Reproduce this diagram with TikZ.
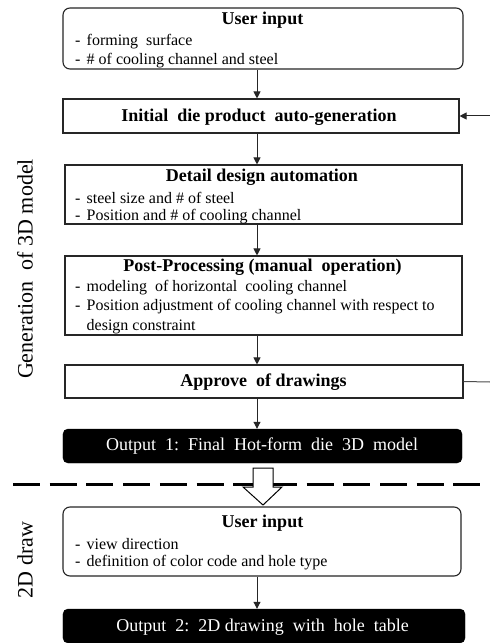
\documentclass[tikz,border=0pt]{standalone}
\usepackage{fontspec}
\setmainfont{Liberation Serif}
\usetikzlibrary{arrows.meta}
\begin{document}
\begin{tikzpicture}[x=1bp,y=-1bp,
  box/.style={draw=black!85, line width=1.1bp, inner sep=0pt, fill=white},
  rbox/.style={box, rounded corners=7bp},
  obox/.style={draw=black, fill=black, rounded corners=5bp, inner sep=0pt},
  ttl/.style={font=\fontsize{18bp}{21bp}\selectfont\bfseries, inner sep=0pt},
  body/.style={font=\fontsize{16bp}{19bp}\selectfont, inner sep=0pt, anchor=west},
  otxt/.style={font=\fontsize{18bp}{21bp}\selectfont, text=white, inner sep=0pt},
  side/.style={font=\fontsize{22bp}{26bp}\selectfont, rotate=90, inner sep=0pt},
  arr/.style={line width=1bp, draw=black!85, -{Triangle[length=7bp,width=7bp]}},
  fline/.style={line width=1bp, draw=black!70},
  ]
\useasboundingbox (0,0) rectangle (490,643);

% boxes
\node[rbox, minimum width=400bp, minimum height=61bp] (u1) at (263,38.5) {};
\node[box, minimum width=396bp, minimum height=34bp] (init) at (261,116) {};
\node[box, minimum width=397bp, minimum height=59bp] (det) at (263.5,194.5) {};
\node[box, minimum width=397bp, minimum height=79bp] (post) at (263.5,295.5) {};
\node[box, minimum width=398bp, minimum height=33bp] (appr) at (264,381.5) {};
\node[obox, minimum width=399bp, minimum height=34bp] (out1) at (262.5,446) {};
\node[rbox, minimum width=398bp, minimum height=69bp] (u2) at (262,541.5) {};
\node[obox, minimum width=402bp, minimum height=34bp] (out2) at (264,626) {};

% texts
\newcommand{\dsh}{\makebox[11.5bp][l]{-}}
\node[ttl] (u1t) at (262.5,20) {User input};
\node[body] (u1a) at (75,42) {\dsh forming\ \ surface};
\node[body] (u1b) at (75,61) {\dsh \# of cooling channel and steel};

\node[ttl] (initt) at (259,117) {Initial\ \ die product\ \ auto-generation};

\node[ttl] (dett) at (262,177) {Detail design automation};
\node[body] (deta) at (75,198) {\dsh steel size and \# of steel};
\node[body] (detb) at (75,217) {\dsh Position and \# of cooling channel};

\node[ttl] (postt) at (262.5,267) {Post-Processing (manual\ \ operation)};
\node[body] (posta) at (75,288) {\dsh modeling\ \ of horizontal\ \ cooling channel};
\node[body] (postb) at (75,307) {\dsh Position adjustment of cooling channel with respect to};
\node[body] (postc) at (75,327) {\hspace*{11.5bp}design constraint};

\node[ttl] (apprt) at (263.5,382) {Approve\ \ of drawings};

\node[otxt] (out1t) at (262,446) {Output\ \ 1:\ \ Final\ \ Hot-form\ \ die\ \ 3D\ \ model};

\node[ttl] (u2t) at (262.5,523) {User input};
\node[body] (u2a) at (75,544) {\dsh view direction};
\node[body] (u2b) at (75,563) {\dsh definition of color code and hole type};

\node[otxt] (out2t) at (262.5,627) {Output\ \ 2:\ \ 2D drawing\ \ with\ \ hole\ \ table};

\node[side] (lab3d) at (25,269) {Generation\ \ of 3D model};
\node[side] (lab2d) at (25,560) {2D draw};

% connectors
\coordinate (ax) at (257,0);
\draw[arr] (u1.south -| ax) -- (init.north -| ax);
\draw[arr] (init.south -| ax) -- (det.north -| ax);
\draw[arr] (det.south -| ax) -- (post.north -| ax);
\draw[arr] (post.south -| ax) -- (appr.north -| ax);
\draw[arr] (appr.south -| ax) -- (out1.north -| ax);
\draw[arr] (u2.south -| ax) -- (out2.north -| ax);

\coordinate (fbin) at (490,116);
\coordinate (fbout) at (490,382);
\draw[arr] (fbin) -- (init.east);
\draw[fline] (appr.east) -- (fbout);

% dashed separator
\coordinate (dl) at (13,484);
\coordinate (dr) at (490,484);
\draw[line width=3bp, dash pattern=on 27bp off 9.7bp] (dl) -- (dr);

% hollow arrow
\draw[line width=1bp, fill=white] (253,468) -- (273,468) -- (273,487) -- (282,487)
  -- (263,505) -- (243,487) -- (253,487) -- cycle;
\end{tikzpicture}
\end{document}
